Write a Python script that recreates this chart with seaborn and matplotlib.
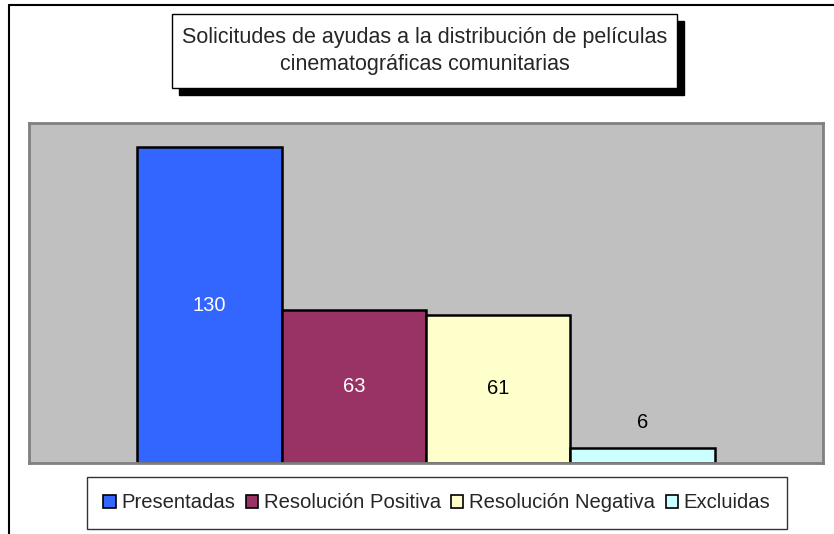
import matplotlib
matplotlib.use("Agg")
import matplotlib.pyplot as plt
import seaborn as sns
import pandas as pd
from matplotlib.patches import Rectangle
from matplotlib.lines import Line2D

# Data
categorias = ["Presentadas", "Resolución Positiva", "Resolución Negativa", "Excluidas"]
valores = [130, 63, 61, 6]
colores = ["#3366FF", "#993366", "#FFFFCC", "#CCFFFF"]
titulo = "Solicitudes de ayudas a la distribución de películas\ncinematográficas comunitarias"

sns.set_theme(style="white")
plt.rcParams['font.family'] = ['Liberation Sans', 'DejaVu Sans']

W, H = 834, 534
fig = plt.figure(figsize=(W / 100, H / 100), dpi=100)
fig.patch.set_facecolor("white")


def fx(px):
    return px / W


def fy(py):
    return 1 - py / H


# plot area
ax = fig.add_axes([fx(29), fy(463), fx(823) - fx(29), fy(123) - fy(463)])
df = pd.DataFrame({"Categoria": categorias, "Valor": valores})
sns.barplot(data=df, x="Categoria", y="Valor", hue="Categoria", order=categorias,
            hue_order=categorias, palette=colores, width=1.0, dodge=False,
            edgecolor="black", linewidth=1.8, legend=False, ax=ax, saturation=1)

ax.set_facecolor("#C0C0C0")
ax.set_xlim(-1.25, 4.25)
ax.set_ylim(0, 140)
ax.set_xticks([])
ax.set_yticks([])
ax.set_xlabel("")
ax.set_ylabel("")
for s in ax.spines.values():
    s.set_color("#808080")
    s.set_linewidth(2)

# value labels
label_cols = ["white", "white", "black", "black"]
for i, v in enumerate(valores):
    if v > 20:
        ax.text(i, v / 2, str(v), ha="center", va="center", fontsize=14.5,
                color=label_cols[i])
    else:
        ax.annotate(str(v), (i, v), xytext=(0, 19), textcoords="offset points",
                    ha="center", va="center", fontsize=14.5, color=label_cols[i])

# outer chart border (left and top visible)
fig.add_artist(Line2D([fx(9), fx(9)], [0, fy(5)], transform=fig.transFigure,
                      color="black", linewidth=1.5))
fig.add_artist(Line2D([fx(9), 1], [fy(5), fy(5)], transform=fig.transFigure,
                      color="black", linewidth=1.5))

# title box with shadow
bx0, bx1, by0, by1 = 172, 677, 14, 88
fig.add_artist(Rectangle((fx(bx0 + 7), fy(by1 + 7)), fx(bx1) - fx(bx0), fy(by0) - fy(by1),
                         transform=fig.transFigure, facecolor="black", edgecolor="black"))
fig.add_artist(Rectangle((fx(bx0), fy(by1)), fx(bx1) - fx(bx0), fy(by0) - fy(by1),
                         transform=fig.transFigure, facecolor="white", edgecolor="black",
                         linewidth=1))
fig.text(fx((bx0 + bx1) / 2), fy((by0 + by1) / 2), titulo, ha="center", va="center",
         fontsize=15.5, linespacing=1.4)

# legend
handles = [Rectangle((0, 0), 1, 1, facecolor=c, edgecolor="black", linewidth=1.2)
           for c in colores]
leg = fig.legend(handles, categorias, loc="center", ncol=4,
                 bbox_to_anchor=(fx(437), fy(503)), fontsize=14.6,
                 frameon=True, fancybox=False, handlelength=0.6, handleheight=0.6,
                 handletextpad=0.3, columnspacing=0.5, borderpad=0.8)
leg.get_frame().set_edgecolor("black")
leg.get_frame().set_linewidth(1)

fig.savefig("out.png", dpi=100)
